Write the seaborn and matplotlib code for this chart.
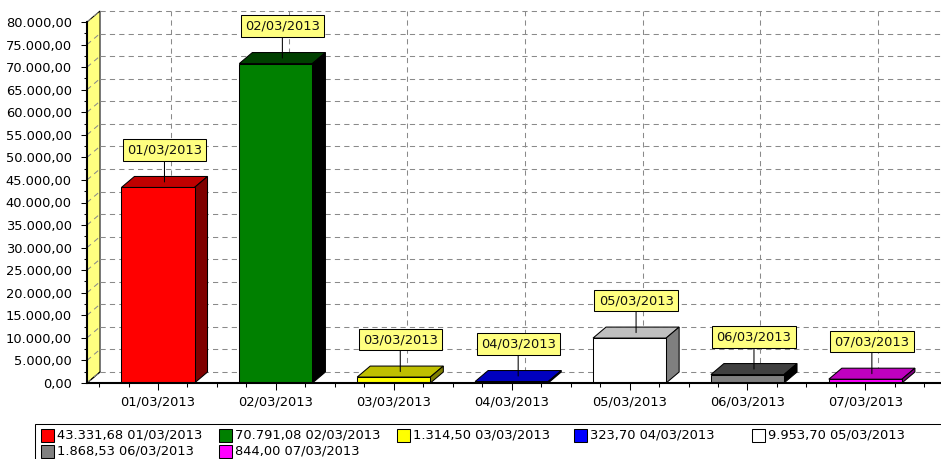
import numpy as np
import pandas as pd
import matplotlib
matplotlib.use("Agg")
import matplotlib.pyplot as plt
import seaborn as sns
from matplotlib.patches import Polygon, Rectangle
from matplotlib.ticker import FuncFormatter, MultipleLocator

# ---------------- data ----------------
dates = ["01/03/2013", "02/03/2013", "03/03/2013", "04/03/2013",
         "05/03/2013", "06/03/2013", "07/03/2013"]
values = [43331.68, 70791.08, 1314.50, 323.70, 9953.70, 1868.53, 844.00]
colors = ["#FF0000", "#008000", "#FFFF00", "#0000FF", "#FFFFFF", "#808080", "#FF00FF"]
y_max = 80000
y_step = 5000


def br(v):
    s = f"{v:,.2f}"
    return s.replace(",", "X").replace(".", ",").replace("X", ".")


def darken(hexc, q):
    r, g, b = [int(hexc[i:i + 2], 16) for i in (1, 3, 5)]
    return tuple(max(0, c - q) / 255 for c in (r, g, b))


sns.set_theme(style="white")
plt.rcParams['font.family'] = ['DejaVu Sans']
FS = 9.4
LW = 0.75  # ~1 px

W, H = 941, 459
fig = plt.figure(figsize=(W / 100, H / 100), dpi=100)
fig.patch.set_facecolor("white")
ax_l, ax_r, ax_b, ax_t = 87, 940, 383, 22
ax = fig.add_axes([ax_l / W, 1 - ax_b / H, (ax_r - ax_l) / W, (ax_b - ax_t) / H])
ax.patch.set_alpha(0)

df = pd.DataFrame({"date": dates, "value": values})
sns.barplot(data=df, x="date", y="value", hue="date", palette=colors,
            saturation=1, width=0.62, edgecolor="black", linewidth=LW,
            legend=False, ax=ax)
front = list(ax.patches)
for p in front:
    p.set_zorder(4)

xl, xr = -0.602, 6.633
ax.set_xlim(xl, xr)
ax.set_ylim(0, y_max)

# depth offsets in data units (13 px right, 11 px up)
x0, y0 = ax.transData.transform((0, 0))
ddx, ddy = ax.transData.inverted().transform((x0 + 13, y0 + 11))

dash = (0, (5, 4))
gcol = "#8a8a8a"
# left wall
ax.add_patch(Polygon([(xl, 0), (xl, y_max), (xl + ddx, y_max + ddy), (xl + ddx, ddy)],
                     closed=True, fc="#FFFF80", ec="black", lw=LW, zorder=0.5, clip_on=False))
# floor diagonal
ax.plot([xl, xl + ddx], [0, ddy], color="black", lw=LW, zorder=0.6, clip_on=False)
# grid on back wall and left wall
for yv in np.arange(0, y_max + 1, y_step):
    ax.plot([xl + ddx, xr + ddx + 0.2], [yv + ddy] * 2, ls=dash, color=gcol, lw=LW,
            zorder=1, clip_on=False)
    ax.plot([xl, xl + ddx], [yv, yv + ddy], ls=dash, color=gcol, lw=LW,
            zorder=1, clip_on=False)
for i in range(len(dates)):
    ax.plot([i + ddx] * 2, [ddy, y_max + ddy], ls=dash, color=gcol, lw=LW,
            zorder=1, clip_on=False)

# 3D tops and sides, callouts
hw = 0.31
for i, (v, c) in enumerate(zip(values, colors)):
    top = [(i - hw, v), (i + hw, v), (i + hw + ddx, v + ddy), (i - hw + ddx, v + ddy)]
    side = [(i + hw, 0), (i + hw, v), (i + hw + ddx, v + ddy), (i + hw + ddx, ddy)]
    ax.add_patch(Polygon(top, closed=True, fc=darken(c, 64), ec="black", lw=LW,
                         zorder=3, clip_on=False))
    ax.add_patch(Polygon(side, closed=True, fc=darken(c, 128), ec="black", lw=LW,
                         zorder=3, clip_on=False))
    ax.annotate(dates[i], xy=(i + ddx / 2, v + ddy / 2), xytext=(0, 32),
                textcoords="offset pixels", ha="center", va="center", fontsize=FS,
                color="#111111",
                bbox=dict(boxstyle="square,pad=0.32", fc="#FFFF80", ec="black", lw=LW),
                arrowprops=dict(arrowstyle="-", color="black", lw=LW, shrinkA=0, shrinkB=0),
                zorder=6, annotation_clip=False)

# spines / ticks
for s in ("top", "right"):
    ax.spines[s].set_visible(False)
for s in ("left", "bottom"):
    ax.spines[s].set_visible(True)
    ax.spines[s].set_color("black")
    ax.spines[s].set_linewidth(1.5)
    ax.spines[s].set_zorder(5)
ax.grid(False)
ax.set_xlabel("")
ax.set_ylabel("")
ax.yaxis.set_major_locator(MultipleLocator(y_step))
ax.yaxis.set_minor_locator(MultipleLocator(y_step / 2))
ax.xaxis.set_minor_locator(MultipleLocator(0.25))
ax.yaxis.set_major_formatter(FuncFormatter(lambda v, p: br(v)))
ax.tick_params(axis="both", which="both", direction="out", color="black",
               left=True, bottom=True, labelcolor="black")
ax.tick_params(axis="y", which="major", length=4, width=LW, pad=7, labelsize=FS)
ax.tick_params(axis="y", which="minor", length=2, width=LW)
ax.tick_params(axis="x", which="major", length=5, width=LW, pad=4, labelsize=FS)
ax.tick_params(axis="x", which="minor", length=3, width=LW)

# legend (manual, row-major like the reference)
fig.patches.append(Rectangle((35 / W, -0.1), 1, (459 - 424) / H + 0.1,
                             transform=fig.transFigure, fc="white", ec="black", lw=LW))
for k, (v, d, c) in enumerate(zip(values, dates, colors)):
    col, row = k % 5, k // 5
    sx = 41 + col * 177.8
    sy = 435 + row * 16
    fig.patches.append(Rectangle((sx / W, 1 - (sy + 6.5) / H), 13 / W, 13 / H,
                                 transform=fig.transFigure, fc=c, ec="black", lw=LW))
    fig.text((sx + 16) / W, 1 - sy / H, f"{br(v)} {d}", ha="left", va="center",
             fontsize=FS, color="black")

fig.savefig("out.png", dpi=100)
